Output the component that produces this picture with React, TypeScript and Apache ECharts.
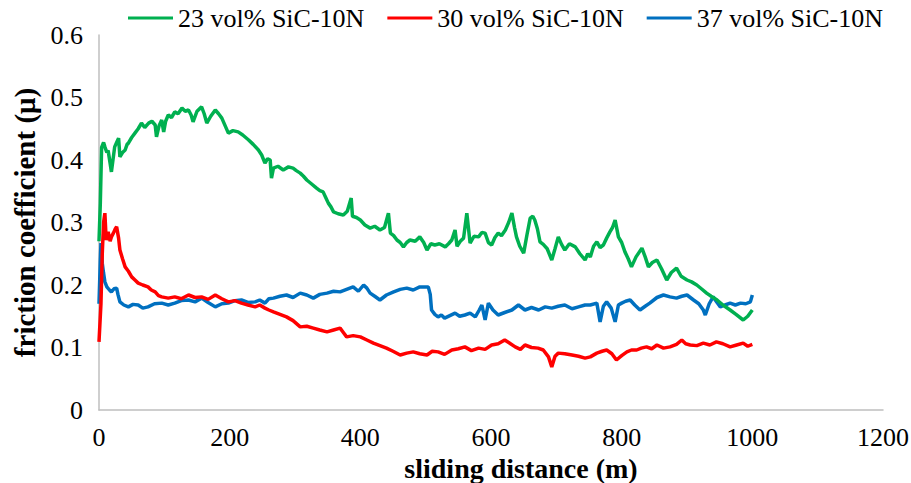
import React, { useEffect, useRef } from "react";
import * as echarts from "echarts";

const seriesNames = ["23 vol% SiC-10N", "30 vol% SiC-10N", "37 vol% SiC-10N"];
const xTicks = [0, 200, 400, 600, 800, 1000, 1200];
const yTicks = [0, 0.1, 0.2, 0.3, 0.4, 0.5, 0.6];

const greenX = [0,2,4,7,9,12,14,17,19,22,24,27,30,32,36,40,43,45,50,55,60,65,70,76,81,86,88,92,96,99,102,106,111,116,121,127,132,137,141,144,150,157,161,165,171,178,183,188,193,198,205,213,220,229,236,244,249,254,258,262,264,267,274,282,290,297,302,308,313,318,325,333,338,343,347,351,355,359,366,374,380,386,388,394,400,407,415,422,430,437,443,446,451,456,461,466,471,476,484,491,497,502,508,514,521,530,535,540,545,548,553,558,563,568,574,581,586,591,596,601,606,611,616,622,627,632,636,639,644,650,655,660,664,667,671,675,680,686,693,698,703,708,713,720,729,736,744,748,752,757,762,767,772,777,782,786,790,795,800,805,810,815,822,831,836,841,847,854,861,869,876,884,891,900,907,915,922,930,937,946,955,966,975,986,993,1000];
const greenY = [0.27,0.33,0.42,0.428,0.421,0.412,0.415,0.395,0.381,0.405,0.421,0.428,0.435,0.405,0.412,0.416,0.425,0.427,0.436,0.443,0.45,0.459,0.452,0.459,0.462,0.456,0.437,0.455,0.464,0.445,0.462,0.472,0.468,0.477,0.474,0.483,0.478,0.48,0.472,0.461,0.478,0.485,0.474,0.459,0.47,0.48,0.474,0.467,0.455,0.443,0.447,0.445,0.44,0.432,0.425,0.416,0.408,0.395,0.402,0.4,0.371,0.387,0.39,0.384,0.389,0.387,0.383,0.379,0.374,0.368,0.362,0.355,0.351,0.349,0.34,0.331,0.325,0.317,0.314,0.312,0.318,0.339,0.31,0.308,0.304,0.296,0.291,0.294,0.288,0.292,0.315,0.283,0.279,0.272,0.268,0.261,0.268,0.272,0.27,0.277,0.268,0.256,0.266,0.264,0.266,0.261,0.266,0.272,0.288,0.262,0.27,0.275,0.315,0.267,0.278,0.277,0.284,0.283,0.268,0.264,0.276,0.283,0.279,0.288,0.3,0.315,0.292,0.277,0.262,0.251,0.28,0.307,0.31,0.304,0.29,0.269,0.265,0.258,0.24,0.258,0.277,0.265,0.256,0.266,0.261,0.25,0.24,0.25,0.245,0.262,0.269,0.26,0.264,0.275,0.285,0.292,0.304,0.277,0.268,0.253,0.242,0.229,0.245,0.259,0.245,0.229,0.236,0.24,0.226,0.208,0.22,0.227,0.214,0.208,0.205,0.2,0.194,0.187,0.182,0.176,0.168,0.16,0.153,0.144,0.15,0.16];

const redX = [0,3,5,7,9,11,14,17,19,22,25,27,30,32,36,40,45,50,55,60,67,75,80,86,91,96,106,116,126,137,147,157,167,178,188,198,208,218,228,239,246,254,260,267,277,287,297,308,318,328,338,349,359,369,374,379,389,400,410,420,430,440,450,461,471,481,491,502,510,519,529,540,550,560,570,581,591,601,611,621,627,637,645,652,662,672,680,688,693,698,703,713,724,734,744,752,762,770,777,785,792,800,808,815,823,830,838,846,854,864,874,884,892,898,905,915,925,935,945,955,966,976,986,993,1000];
const redY = [0.109,0.17,0.25,0.3,0.315,0.272,0.285,0.27,0.277,0.283,0.29,0.293,0.275,0.256,0.242,0.229,0.222,0.213,0.208,0.203,0.2,0.197,0.192,0.189,0.183,0.181,0.179,0.181,0.178,0.184,0.18,0.181,0.177,0.184,0.178,0.173,0.175,0.171,0.168,0.165,0.168,0.163,0.16,0.157,0.153,0.149,0.143,0.133,0.134,0.131,0.128,0.125,0.128,0.131,0.124,0.117,0.119,0.117,0.112,0.107,0.103,0.099,0.094,0.088,0.091,0.093,0.09,0.088,0.094,0.093,0.089,0.096,0.098,0.101,0.095,0.099,0.097,0.104,0.106,0.112,0.108,0.101,0.097,0.104,0.1,0.099,0.096,0.085,0.069,0.086,0.091,0.09,0.088,0.086,0.083,0.085,0.091,0.094,0.096,0.09,0.08,0.087,0.093,0.096,0.096,0.099,0.101,0.098,0.104,0.099,0.101,0.105,0.112,0.106,0.104,0.103,0.107,0.104,0.109,0.106,0.101,0.104,0.107,0.102,0.105];

const blueX = [0,2,3,5,7,9,12,16,19,23,27,29,32,38,45,52,60,67,75,85,96,106,116,126,137,147,157,167,178,188,198,208,218,228,239,246,254,260,267,277,287,297,308,318,328,338,349,359,369,379,389,397,405,410,415,422,430,440,451,461,471,481,491,499,504,507,509,514,519,524,529,537,545,552,560,568,576,582,586,591,596,603,611,621,632,642,652,662,673,683,693,703,713,724,734,744,752,762,767,772,777,784,790,795,800,806,813,820,828,836,843,854,864,874,884,892,900,910,918,925,928,934,940,946,951,958,966,974,982,990,997,1000];
const blueY = [0.17,0.24,0.267,0.235,0.219,0.205,0.197,0.192,0.189,0.194,0.195,0.185,0.173,0.168,0.165,0.169,0.168,0.163,0.165,0.17,0.171,0.168,0.171,0.175,0.176,0.173,0.179,0.172,0.165,0.17,0.171,0.175,0.176,0.172,0.173,0.176,0.171,0.178,0.179,0.182,0.184,0.18,0.187,0.184,0.179,0.185,0.187,0.19,0.189,0.193,0.197,0.19,0.2,0.195,0.187,0.182,0.176,0.184,0.189,0.193,0.195,0.192,0.197,0.197,0.197,0.185,0.16,0.153,0.149,0.152,0.147,0.151,0.155,0.15,0.152,0.155,0.149,0.16,0.168,0.144,0.171,0.16,0.152,0.156,0.16,0.168,0.16,0.164,0.16,0.165,0.163,0.166,0.168,0.162,0.165,0.168,0.168,0.171,0.141,0.166,0.173,0.163,0.141,0.168,0.171,0.174,0.176,0.168,0.16,0.166,0.171,0.18,0.184,0.181,0.179,0.182,0.184,0.176,0.17,0.16,0.152,0.17,0.181,0.172,0.165,0.168,0.171,0.168,0.171,0.17,0.173,0.184];

const colors = ["#00B050", "#FF0000", "#0070C0"];
const FONT = "'Liberation Serif', 'Times New Roman', serif";

function pairs(xs: number[], ys: number[]) {
  return xs.map((x, i) => [x, ys[i]]);
}

export default function App() {
  const ref = useRef<HTMLDivElement>(null);
  useEffect(() => {
    if (!ref.current) return;
    const chart = echarts.init(ref.current, null, { renderer: "svg" });
    const data = [pairs(greenX, greenY), pairs(redX, redY), pairs(blueX, blueY)];
    chart.setOption({
      animation: false,
      textStyle: { fontFamily: FONT },
      legend: {
        top: 5,
        left: 128,
        padding: 0,
        itemGap: 23,
        itemWidth: 45,
        itemHeight: 3,
        icon: "rect",
        textStyle: { fontFamily: FONT, fontSize: 26, color: "#000" },
        data: seriesNames,
      },
      grid: { left: 99, top: 35, width: 784, height: 375, containLabel: false, outerBoundsMode: "none" },
      xAxis: {
        type: "value",
        min: 0,
        max: 1200,
        interval: 200,
        name: "sliding distance (m)",
        nameLocation: "middle",
        nameGap: 42,
        nameTextStyle: { fontFamily: FONT, fontSize: 28, fontWeight: "bold", color: "#000", padding: [0, 0, 0, 60] },
        axisLine: { show: true, lineStyle: { color: "#bfbfbf", width: 1.5 } },
        axisTick: { show: false },
        splitLine: { show: false },
        axisLabel: { fontFamily: FONT, fontSize: 26, color: "#000", margin: 14, formatter: (v: number) => (xTicks.includes(v) ? String(v) : "") },
      },
      yAxis: {
        type: "value",
        min: 0,
        max: 0.6,
        interval: 0.1,
        name: "friction coefficient (μ)",
        nameLocation: "middle",
        nameGap: 60,
        nameTextStyle: { fontFamily: FONT, fontSize: 29, fontWeight: "bold", color: "#000" },
        axisLine: { show: true, lineStyle: { color: "#bfbfbf", width: 1.5 } },
        axisTick: { show: false },
        splitLine: { show: false },
        axisLabel: {
          fontFamily: FONT,
          fontSize: 26,
          color: "#000",
          margin: 16,
          formatter: (v: number) => {
            const t = yTicks.find((k) => Math.abs(k - v) < 1e-9);
            return t === undefined ? "" : t === 0 ? "0" : t.toFixed(1);
          },
        },
      },
      series: seriesNames.map((name, i) => ({
        name,
        type: "line",
        data: data[i],
        showSymbol: false,
        symbol: "none",
        lineStyle: { color: colors[i], width: 3.5 },
        itemStyle: { color: colors[i] },
        z: 3 - i,
      })),
    });
    return () => chart.dispose();
  }, []);
  return <div ref={ref} style={{ position: "absolute", left: 0, top: 0, width: 911, height: 483 }} />;
}
